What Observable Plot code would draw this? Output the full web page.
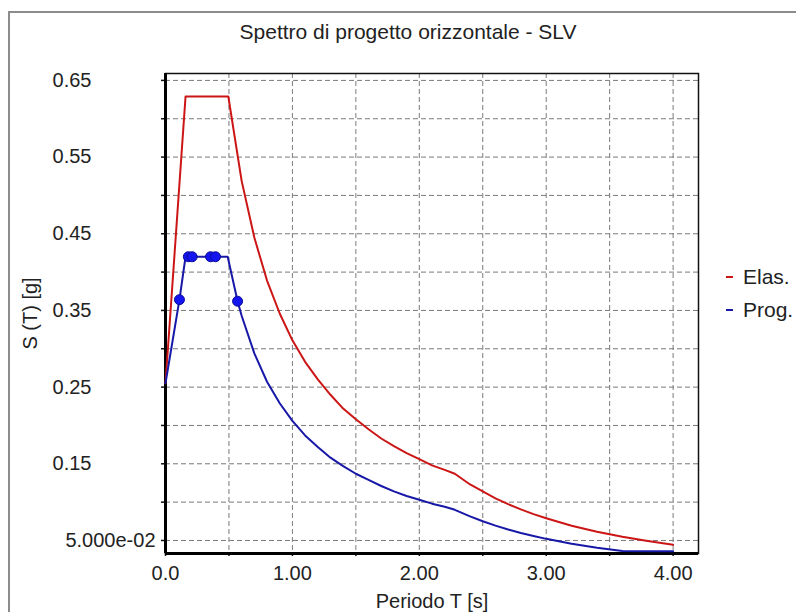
<!DOCTYPE html>
<html>
<head>
<meta charset="utf-8">
<script src="https://cdn.jsdelivr.net/npm/d3@7"></script>
<script src="https://cdn.jsdelivr.net/npm/@observablehq/plot@0.6"></script>
<style>
  html, body { margin: 0; padding: 0; background: #fff; }
  #wrap { position: relative; width: 796px; height: 612px; overflow: hidden; background: #fff;
          font-family: "Liberation Sans", Arial, sans-serif; color: #222; }
  #border { position: absolute; left: 8px; top: 11px; width: 900px; height: 700px;
            border-left: 2px solid #8c8c8c; border-top: 2px solid #8c8c8c; pointer-events: none; }
  #title { position: absolute; left: 0; top: 20px; width: 816px; text-align: center;
           font-size: 21px; line-height: 24px; }
  #legend { position: absolute; left: 726px; top: 260px; font-size: 21px; line-height: 33px; }
  #legend .item { display: flex; align-items: center; white-space: nowrap; }
  #legend .sw { display: inline-block; width: 7px; height: 2px; margin-right: 10px; }
  #chart { position: absolute; left: 0; top: 0; }
</style>
</head>
<body>
<div id="wrap">
  <div id="chart"></div>
  <div id="border"></div>
  <div id="title"></div>
  <div id="legend"></div>
</div>
<script>
// ---- Text ----
const chartTitle = "Spettro di progetto orizzontale - SLV";
const xAxisTitle = "Periodo T [s]";
const yAxisTitle = "S (T) [g]";
const seriesNames = ["Elas.", "Prog."];
const seriesColors = ["#cc1616", "#1818a8"];

// ---- Axes ----
const xDomain = [0, 4.2];
const yDomain = [0.033, 0.659];
const xLabelTicks = [0, 1, 2, 3, 4];
const xLabelTexts = ["0.0", "1.00", "2.00", "3.00", "4.00"];
const xMinorTicks = [0, 0.5, 1, 1.5, 2, 2.5, 3, 3.5, 4];
const yLabelTicks = [0.15, 0.25, 0.35, 0.45, 0.55, 0.65];
const yLabelTexts = ["0.15", "0.25", "0.35", "0.45", "0.55", "0.65"];
const yLowTick = [0.05];
const yLowText = ["5.000e-02"];
const yMinorTicks = [0.05, 0.10, 0.15, 0.20, 0.25, 0.30, 0.35, 0.40, 0.45, 0.50, 0.55, 0.60, 0.65];

// ---- Elastic spectrum ----
const elasT = [0, 0.158, 0.495, 0.6, 0.7, 0.8, 0.9, 1.0, 1.1, 1.2, 1.3, 1.4, 1.5, 1.6, 1.7, 1.8, 1.9, 2.0,
               2.1, 2.2, 2.28, 2.4, 2.5, 2.6, 2.7, 2.8, 2.9, 3.0, 3.2, 3.4, 3.6, 3.8, 4.0];
const elasS = [0.255, 0.629, 0.629, 0.519, 0.445, 0.389, 0.346, 0.311, 0.283, 0.260, 0.240, 0.222, 0.208,
               0.195, 0.183, 0.173, 0.164, 0.156, 0.148, 0.142, 0.137, 0.123, 0.114, 0.105, 0.0974,
               0.0906, 0.0844, 0.0789, 0.0693, 0.0614, 0.0548, 0.0492, 0.0444];

// ---- Design spectrum ----
const progT = [0, 0.11, 0.158, 0.18, 0.21, 0.355, 0.394, 0.49, 0.568, 0.6, 0.7, 0.8, 0.9, 1.0, 1.1, 1.2, 1.3,
               1.4, 1.5, 1.6, 1.7, 1.8, 1.9, 2.0, 2.1, 2.2, 2.28, 2.4, 2.5, 2.6, 2.7, 2.8, 2.9, 3.0,
               3.2, 3.4, 3.6, 3.8, 4.0];
const progS = [0.255, 0.364, 0.42, 0.42, 0.42, 0.42, 0.42, 0.42, 0.362, 0.343, 0.294, 0.257, 0.229, 0.206,
               0.187, 0.172, 0.158, 0.147, 0.137, 0.129, 0.121, 0.114, 0.108, 0.103, 0.098, 0.094, 0.090,
               0.0814, 0.0750, 0.0694, 0.0643, 0.0598, 0.0558, 0.0521, 0.0458, 0.0406, 0.0362, 0.036, 0.036];

// ---- Marked points on design spectrum ----
const dotT = [0.11, 0.18, 0.21, 0.355, 0.394, 0.568];
const dotS = [0.364, 0.42, 0.42, 0.42, 0.42, 0.362];

const elas = elasT.map((t, i) => ({T: t, S: elasS[i]}));
const prog = progT.map((t, i) => ({T: t, S: progS[i]}));
const dots = dotT.map((t, i) => ({T: t, S: dotS[i]}));

const lookup = (ticks, texts) => d => { const i = ticks.indexOf(d); return i >= 0 ? texts[i] : ""; };

const gridStyle = {stroke: "#7a7a7a", strokeOpacity: 1, strokeWidth: 1, strokeDasharray: "5,3"};

const chart = Plot.plot({
  width: 796,
  height: 612,
  marginLeft: 165,
  marginRight: 98,
  marginTop: 73,
  marginBottom: 59,
  x: {domain: xDomain},
  y: {domain: yDomain},
  style: {fontFamily: "'Liberation Sans', Arial, sans-serif", fontSize: "20px", color: "#222", background: "transparent"},
  marks: [
    Plot.gridX(xMinorTicks.slice(1), gridStyle),
    Plot.gridY(yMinorTicks, gridStyle),
    Plot.frame({stroke: "#111", strokeWidth: 1.5}),
    Plot.axisX(xMinorTicks, {tickSize: 3, tickPadding: 9, tickFormat: lookup(xLabelTicks, xLabelTexts),
      stroke: "#111", strokeWidth: 1.5, fill: "#222",
      label: xAxisTitle, labelAnchor: "center", labelOffset: 54, labelArrow: "none"}),
    Plot.axisY(yMinorTicks, {tickSize: 4, tickFormat: () => "", stroke: "#111", strokeWidth: 1.5,
      label: yAxisTitle, labelAnchor: "center", labelOffset: 143, labelArrow: "none"}),
    Plot.axisY(yLabelTicks, {tickSize: 0, tickPadding: 74, tickFormat: lookup(yLabelTicks, yLabelTexts),
      fill: "#222", label: null}),
    Plot.axisY(yLowTick, {tickSize: 0, tickPadding: 10, tickFormat: lookup(yLowTick, yLowText),
      fill: "#222", label: null}),
    Plot.ruleX([xDomain[0]], {stroke: "#000", strokeWidth: 3}),
    Plot.ruleY([yDomain[0]], {stroke: "#000", strokeWidth: 3}),
    Plot.line(elas, {x: "T", y: "S", stroke: seriesColors[0], strokeWidth: 2}),
    Plot.line(prog, {x: "T", y: "S", stroke: seriesColors[1], strokeWidth: 2}),
    Plot.dot(dots, {x: "T", y: "S", r: 5, fill: "#1414ee", stroke: "#0c0c9a", strokeWidth: 1})
  ]
});
document.getElementById("chart").appendChild(chart);

document.getElementById("title").textContent = chartTitle;
const legend = document.getElementById("legend");
seriesNames.forEach((name, i) => {
  const item = document.createElement("div");
  item.className = "item";
  const sw = document.createElement("span");
  sw.className = "sw";
  sw.style.background = seriesColors[i];
  item.appendChild(sw);
  item.appendChild(document.createTextNode(name));
  legend.appendChild(item);
});
</script>
</body>
</html>
